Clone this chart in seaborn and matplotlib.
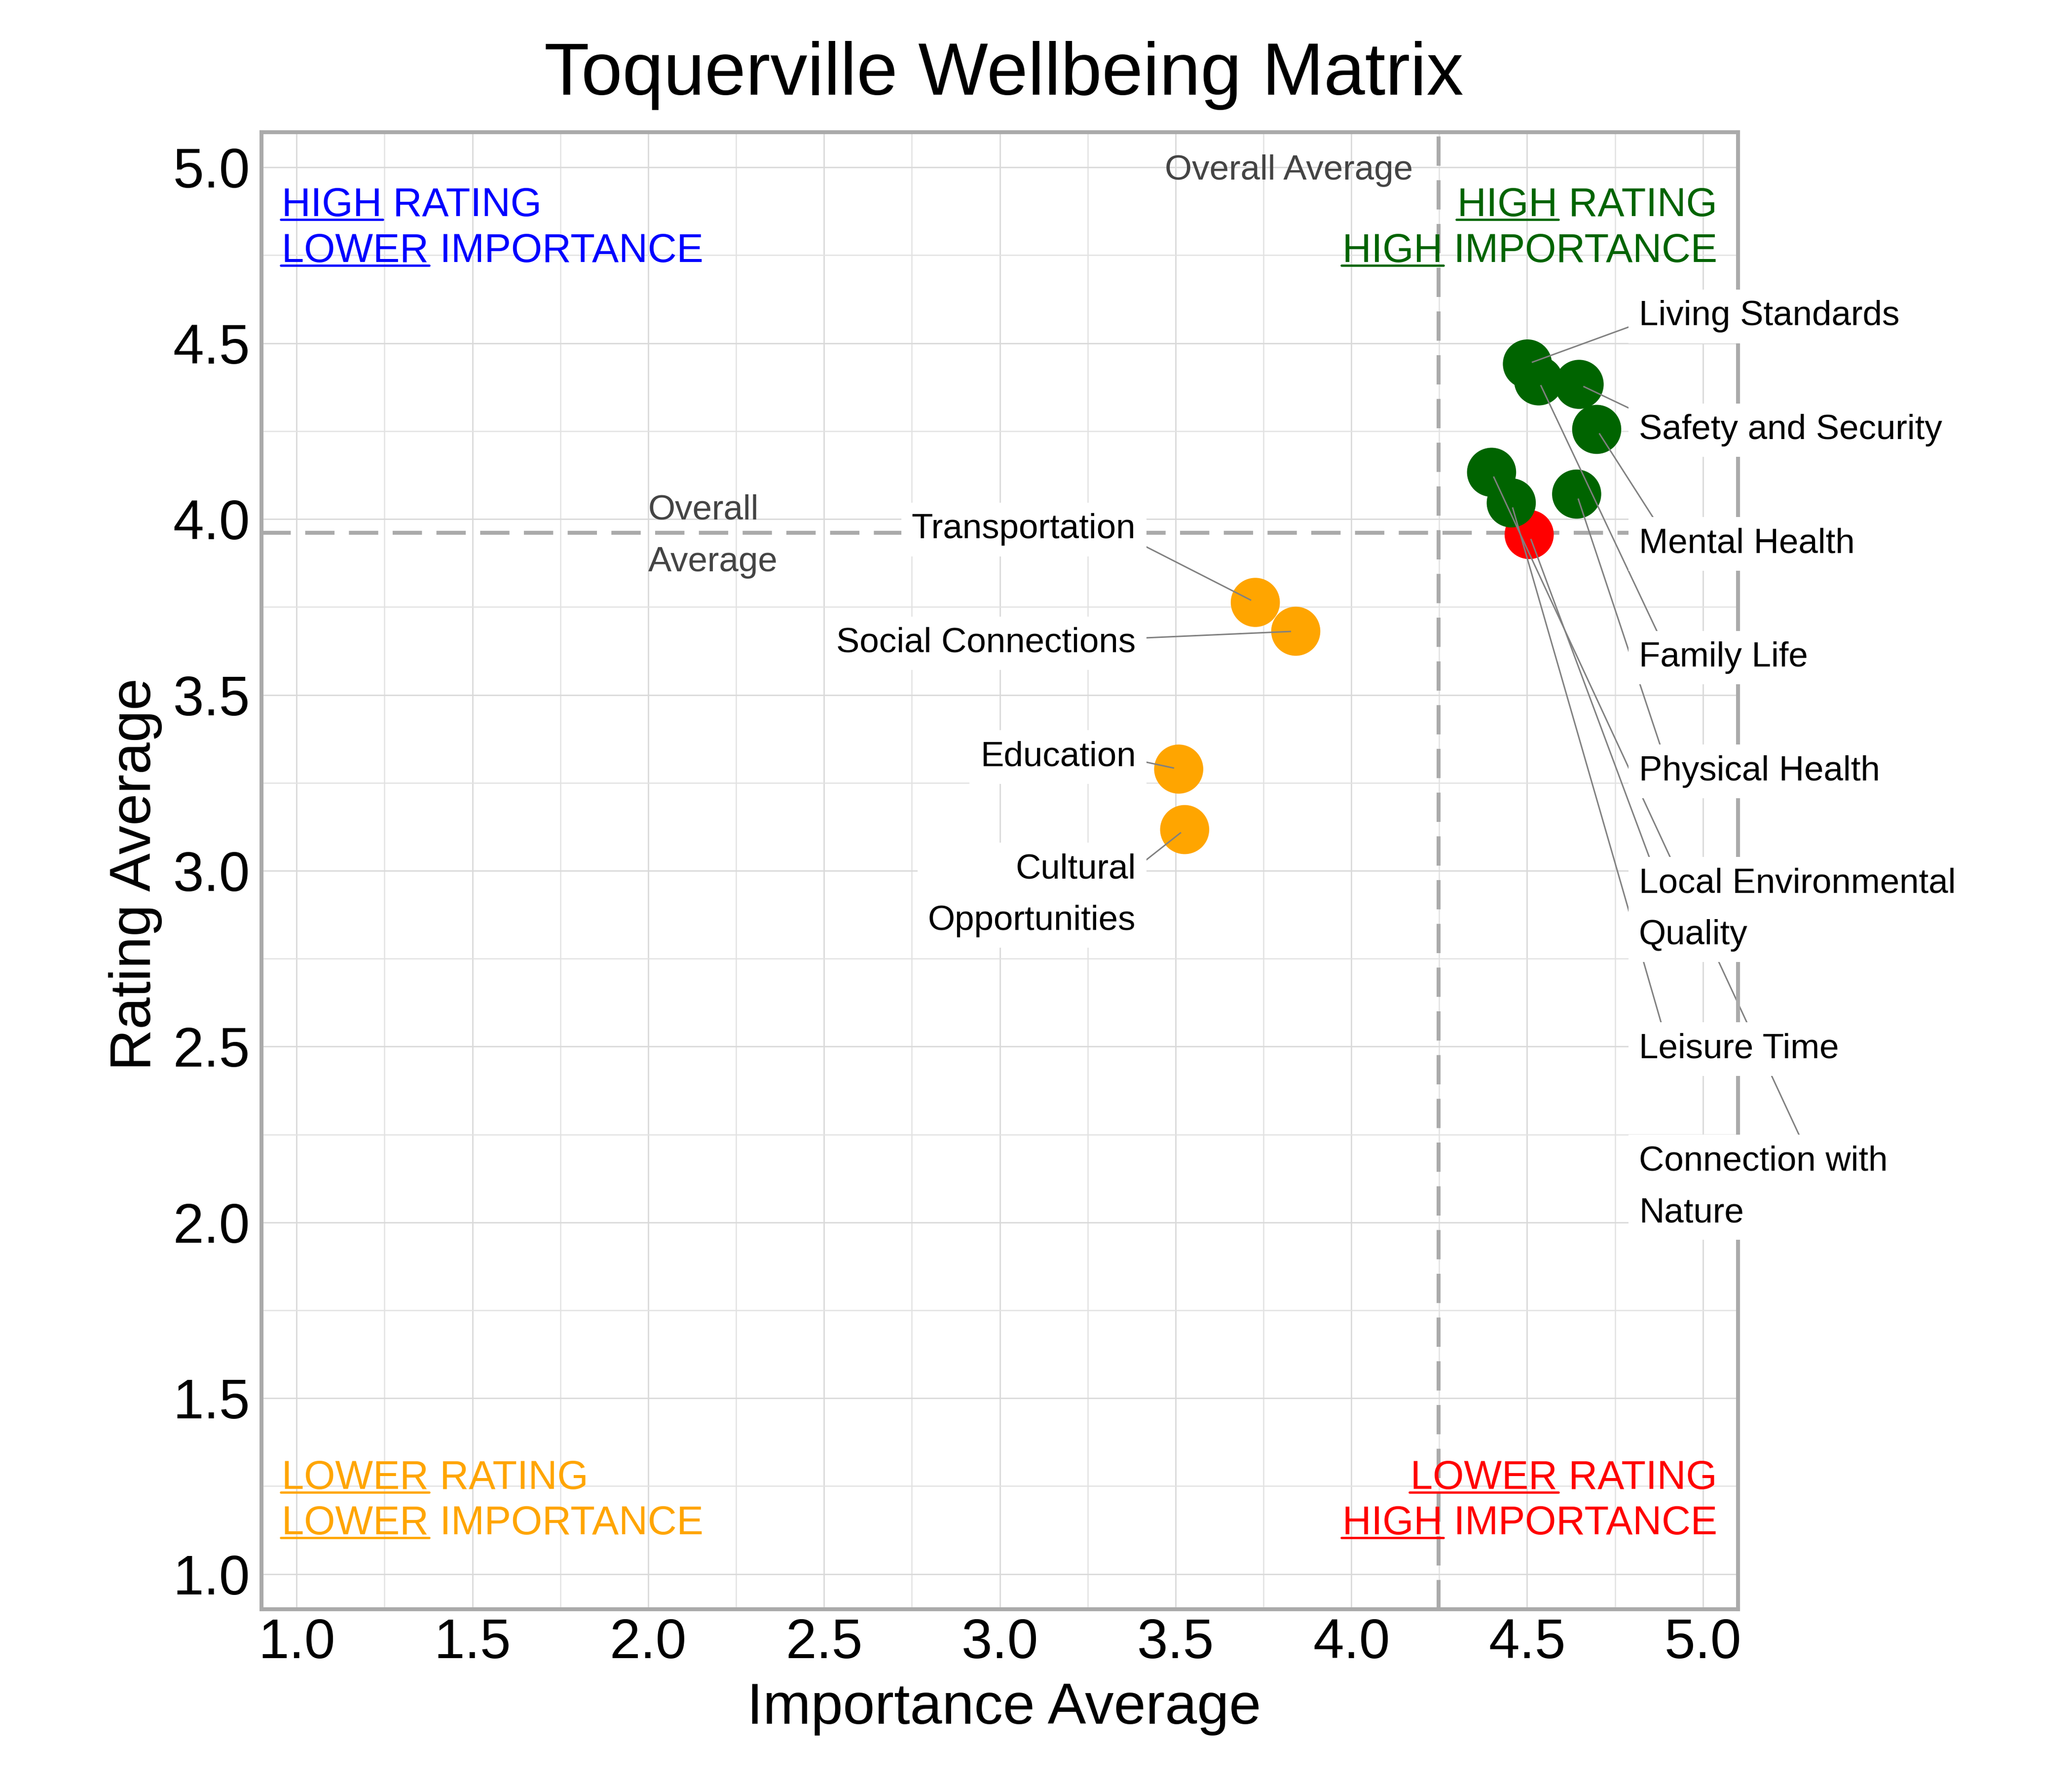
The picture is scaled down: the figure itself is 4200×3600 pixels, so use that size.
import numpy as np
import pandas as pd
import matplotlib
matplotlib.use("Agg")
import matplotlib.pyplot as plt
import seaborn as sns

# ---------------- data ----------------
categories = ["Living Standards", "Safety and Security", "Mental Health", "Family Life",
              "Physical Health", "Local Environmental Quality", "Leisure Time",
              "Connection with Nature", "Transportation", "Social Connections",
              "Education", "Cultural Opportunities"]
importance = [4.501, 4.648, 4.698, 4.533, 4.641, 4.506, 4.455, 4.399,
              3.727, 3.842, 3.509, 3.526]
rating = [4.441, 4.383, 4.255, 4.393, 4.071, 3.956, 4.046, 4.133,
          3.763, 3.681, 3.289, 3.117]

x_ticks = [1.0, 1.5, 2.0, 2.5, 3.0, 3.5, 4.0, 4.5, 5.0]
y_ticks = [1.0, 1.5, 2.0, 2.5, 3.0, 3.5, 4.0, 4.5, 5.0]

title = "Toquerville Wellbeing Matrix"
x_title = "Importance Average"
y_title = "Rating Average"

quad_colors = {"HH": "#006400", "HL": "#FF0000", "LL": "#FFA500", "LH": "#0000FF"}
# quadrant captions: (lines, underlined words)
quad_text = {
    "LH": (["HIGH RATING", "LOWER IMPORTANCE"], ["HIGH", "LOWER"]),
    "HH": (["HIGH RATING", "HIGH IMPORTANCE"], ["HIGH", "HIGH"]),
    "LL": (["LOWER RATING", "LOWER IMPORTANCE"], ["LOWER", "LOWER"]),
    "HL": (["LOWER RATING", "HIGH IMPORTANCE"], ["LOWER", "HIGH"]),
}

# label wrapping (display only)
wrap = {"Local Environmental Quality": "Local Environmental\nQuality",
        "Connection with Nature": "Connection with\nNature",
        "Cultural Opportunities": "Cultural\nOpportunities"}

df = pd.DataFrame({"category": categories, "importance": importance, "rating": rating})
imp_avg = float(np.mean(importance))
rat_avg = float(np.mean(rating))


def quadrant(i, r):
    return ("H" if i >= imp_avg else "L") + ("H" if r >= rat_avg else "L")


df["quad"] = [quadrant(i, r) for i, r in zip(df.importance, df.rating)]

# ---------------- style ----------------
sns.set_theme(style="white")
plt.rcParams["font.family"] = ["Liberation Sans", "DejaVu Sans"]
plt.rcParams["text.color"] = "black"
plt.rcParams["axes.labelcolor"] = "black"

fig = plt.figure(figsize=(14, 12), dpi=300)
ax = fig.add_axes([530 / 4200, 1 - 3262 / 3600, 2993 / 4200, 2994 / 3600])

LIM = (0.9, 5.1)
ax.set_xlim(*LIM)
ax.set_ylim(*LIM)

ax.set_xticks(x_ticks)
ax.set_yticks(y_ticks)
ax.set_xticklabels([f"{v:.1f}" for v in x_ticks])
ax.set_yticklabels([f"{v:.1f}" for v in y_ticks])
ax.set_xticks(np.arange(1.0, 5.01, 0.25), minor=True)
ax.set_yticks(np.arange(1.0, 5.01, 0.25), minor=True)
ax.set_axisbelow(True)
ax.grid(which="major", color="#d9d9d9", lw=0.65)
ax.grid(which="minor", color="#e2e2e2", lw=0.6)
ax.tick_params(axis="both", which="both", length=0, labelsize=27, labelcolor="black")
ax.tick_params(axis="x", which="major", pad=4)
ax.tick_params(axis="y", which="major", pad=5.5)

for s in ax.spines.values():
    s.set_visible(True)
    s.set_color("#aaaaaa")
    s.set_linewidth(1.9)

# average lines
ax.axvline(imp_avg, color="#aaaaaa", lw=1.9, dashes=(7.5, 3.7), zorder=1.5)
ax.axhline(rat_avg, color="#aaaaaa", lw=1.9, dashes=(7.5, 3.7), zorder=1.5)

# points
sns.scatterplot(data=df, x="importance", y="rating", hue="quad", palette=quad_colors,
                s=571, linewidth=0, edgecolor="none", legend=False, ax=ax, zorder=2)

# ---------------- point labels ----------------
RIGHT_X, RIGHT_ANCHOR, RIGHT_TOP = 4.818, 4.9, 4.551
LEFT_X, LEFT_ANCHOR, LEFT_TOP = 3.387, 3.3, 3.945
STEP, LINE, CAP_HALF = 0.3234, 0.1431, 0.0355
LSP = 1.76
anchor_override = {"Connection with Nature": 5.339}

pos_right = RIGHT_TOP
pos_left = LEFT_TOP
box = dict(boxstyle="square,pad=0.3", fc="white", ec="none")
for _, row in df.iterrows():
    txt = wrap.get(row.category, row.category)
    n = txt.count("\n") + 1
    if row.importance >= imp_avg:
        y0 = pos_right
        pos_right -= STEP + LINE * (n - 1)
        tx, ax_x, ha = RIGHT_X, RIGHT_ANCHOR, "left"
    else:
        y0 = pos_left
        pos_left -= STEP + LINE * (n - 1)
        tx, ax_x, ha = LEFT_X, LEFT_ANCHOR, "right"
    ax_x = anchor_override.get(row.category, ax_x)
    ay = y0 - LINE * (n - 1) / 2 + CAP_HALF
    # va='baseline' aligns the last line, so place at the last baseline
    ax.text(tx, y0 - LINE * (n - 1), txt, ha=ha, va="baseline", fontsize=17,
            color="black", linespacing=LSP, bbox=box, zorder=4, clip_on=False)
    # leader line, slightly short of the point centre
    p = ax.transData.transform((row.importance, row.rating))
    a = ax.transData.transform((ax_x, ay))
    d = a - p
    d = d / np.hypot(*d)
    pe = ax.transData.inverted().transform(p + d * 9.5)
    ax.plot([ax_x, pe[0]], [ay, pe[1]], color="#808080", lw=0.7, zorder=2.2,
            clip_on=False, solid_capstyle="butt")

# ---------------- average captions ----------------
ax.text(imp_avg - 0.074, 4.965, "Overall Average", ha="right", va="baseline",
        fontsize=17, color="#444444", zorder=3)
ax.text(2.0, 3.995 - LINE, "Overall\nAverage", ha="left", va="baseline", linespacing=LSP,
        fontsize=17, color="#444444", zorder=3)

# ---------------- quadrant captions ----------------
Q_LEFT, Q_RIGHT = 0.957, 5.041
Q_TOP = (4.862, 4.7315)
Q_BOT = (1.242, 1.1135)
quad_place = {"LH": (Q_LEFT, "left", Q_TOP), "HH": (Q_RIGHT, "right", Q_TOP),
              "LL": (Q_LEFT, "left", Q_BOT), "HL": (Q_RIGHT, "right", Q_BOT)}
QFS = 19.5
quad_objs = []
for key, (lines, words) in quad_text.items():
    qx, qha, qys = quad_place[key]
    for line, word, qy in zip(lines, words, qys):
        t = ax.text(qx, qy, line, ha=qha, va="baseline", fontsize=QFS,
                    color=quad_colors[key], zorder=3)
        quad_objs.append((t, word, qy, quad_colors[key]))

# titles
fig.text(2035 / 4200, 1 - 192 / 3600, title, ha="center", va="baseline", fontsize=36,
         color="black")
ax.set_xlabel(x_title, fontsize=28, color="black")
ax.set_ylabel(y_title, fontsize=28, color="black")
ax.xaxis.set_label_coords(0.503, -0.0491)
ax.yaxis.set_label_coords(-0.0672, 0.4975)

# underlines
fig.canvas.draw()
r = fig.canvas.get_renderer()
inv = ax.transData.inverted()
for t, word, qy, col in quad_objs:
    bb = t.get_window_extent(r)
    tmp = ax.text(0, 0, word, fontsize=QFS)
    wb = tmp.get_window_extent(r)
    tmp.remove()
    base = ax.transData.transform((0, qy))[1]
    yl = base - 7
    x0, x1 = bb.x0 - 2, bb.x0 + wb.width + 2
    (dx0, dy), (dx1, _) = inv.transform([(x0, yl), (x1, yl)])
    ax.plot([dx0, dx1], [dy, dy], color=col, lw=1.1, solid_capstyle="round",
            zorder=3, clip_on=False)

fig.savefig("out.png", dpi=300, facecolor="white")
